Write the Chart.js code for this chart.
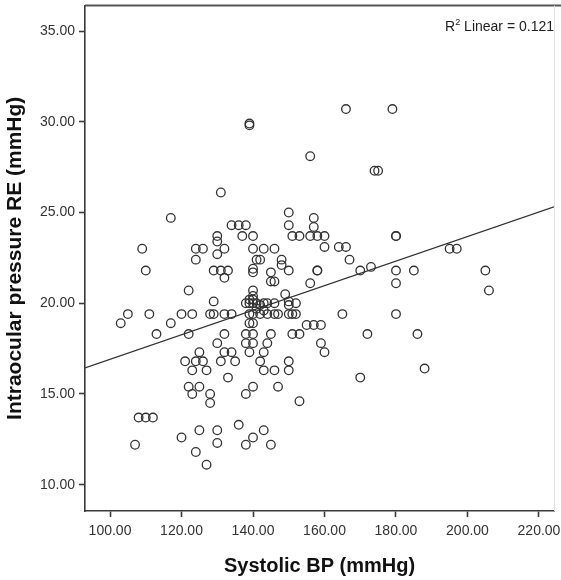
<!DOCTYPE html>
<html><head><meta charset="utf-8">
<script src="https://cdn.jsdelivr.net/npm/chart.js@4"></script>
<style>html,body{margin:0;padding:0;background:#fff}#wrap{width:561px;height:580px;position:relative}</style>
</head><body><div id="wrap"><canvas id="c" width="561" height="580"></canvas></div>
<script>
// ---- data ----
const systolicBP = [
  139,139,166,179,156,174,175,131,117,
  150,150,157,157,
  134,136,138,137,140,130,130,
  124,126,130,132,124,
  140,143,146,151,153,156,158,160,
  160,164,166,167,180,180,
  109,110,129,131,133,132,
  141,142,148,148,150,140,140,
  145,145,146,156,158,158,
  170,173,180,180,185,195,197,205,206,
  180,172,186,170,188,
  122,129,149,140,140,
  105,103,111,117,113,120,123,122,
  128,129,132,134,132,130,132,134,131,135,
  125,121,124,126,123,127,
  133,122,125,123,128,128,138,
  108,110,112,107,120,125,130,130,136,124,127,
  165,139,140,155,157,159,
  138,140,145,151,153,
  138,140,144,159,139,143,160,
  142,150,143,146,150,
  140,147,153,143,140,138,145,
  138,139,140,141,143,144,146,139,140,150,150,152,
  139,140,142,144,146,147,150,151,152,141,142,143
];
const iopRE = [
  29.8,29.9,30.7,30.7,28.1,27.3,27.3,26.1,24.7,
  25.0,24.3,24.7,24.2,
  24.3,24.3,24.3,23.7,23.7,23.7,23.4,
  23.0,23.0,22.7,23.0,22.4,
  23.0,23.0,23.0,23.7,23.7,23.7,23.7,23.7,
  23.1,23.1,23.1,22.4,23.7,23.7,
  23.0,21.8,21.8,21.8,21.8,21.4,
  22.4,22.4,22.4,22.1,21.8,21.9,21.7,
  21.7,21.2,21.2,21.1,21.8,21.8,
  21.8,22.0,21.1,21.8,21.8,23.0,23.0,21.8,20.7,
  19.4,18.3,18.3,15.9,16.4,
  20.7,20.1,20.5,20.7,20.4,
  19.4,18.9,19.4,18.9,18.3,19.4,19.4,18.3,
  19.4,19.4,19.4,19.4,18.3,17.8,17.3,17.3,16.8,16.8,
  17.3,16.8,16.8,16.8,16.3,16.3,
  15.9,15.4,15.4,15.0,15.0,14.5,15.0,
  13.7,13.7,13.7,12.2,12.6,13.0,13.0,12.3,13.3,11.8,11.1,
  19.4,18.9,18.9,18.8,18.8,18.8,
  18.3,18.3,18.3,18.3,18.3,
  17.8,17.8,17.8,17.8,17.3,17.3,17.3,
  16.8,16.8,16.3,16.3,16.3,
  15.4,15.4,14.6,13.0,12.6,12.2,12.2,
  20.0,20.0,20.0,20.0,20.0,20.0,20.0,20.2,20.2,19.9,20.1,20.0,
  19.4,19.4,19.4,19.4,19.4,19.4,19.4,19.4,19.4,19.7,19.9,19.6
];
const xTicks = [100,120,140,160,180,200,220];
const yTicks = [10,15,20,25,30,35];
const xRange = [93, 224.2];
const yRange = [8.55, 36.4];
const fitIntercept = 10.15;
const fitSlope = 0.0676;
const r2Value = 0.121;
const xTitle = 'Systolic BP (mmHg)';
const yTitle = 'Intraocular pressure RE (mmHg)';

// ---- chart ----
const FONT = '"Liberation Sans", Arial, sans-serif';
const fit = x => fitIntercept + fitSlope * x;

const framePlugin = {
  id: 'frame',
  afterDraw(chart) {
    const {ctx, chartArea: a} = chart;
    ctx.save();
    ctx.strokeStyle = '#555';
    ctx.lineWidth = 2;
    ctx.beginPath(); ctx.moveTo(a.left, a.top); ctx.lineTo(chart.width, a.top); ctx.stroke();
    ctx.strokeStyle = '#e2e2e2';
    ctx.lineWidth = 1;
    ctx.beginPath(); ctx.moveTo(a.right + 0.5, a.top); ctx.lineTo(a.right + 0.5, a.bottom); ctx.stroke();
    // R^2 annotation
    ctx.fillStyle = '#222';
    ctx.textBaseline = 'alphabetic';
    const tail = ' Linear = ' + r2Value.toFixed(3);
    ctx.font = '14px ' + FONT;
    const wR = ctx.measureText('R').width, wT = ctx.measureText(tail).width;
    ctx.font = '9px ' + FONT;
    const w2 = ctx.measureText('2').width;
    const base = a.top + 25;
    let x = a.right - (wR + w2 + wT);
    ctx.font = '14px ' + FONT; ctx.fillText('R', x, base); x += wR;
    ctx.font = '9px ' + FONT; ctx.fillText('2', x, base - 6); x += w2;
    ctx.font = '14px ' + FONT; ctx.fillText(tail, x, base);
    ctx.restore();
  }
};

new Chart(document.getElementById('c'), {
  data: {
    datasets: [
      {
        type: 'scatter',
        data: systolicBP.map((x, i) => ({x, y: iopRE[i]})),
        pointRadius: 4.3,
        pointHoverRadius: 4.3,
        pointBorderWidth: 1.3,
        pointBorderColor: '#333',
        pointBackgroundColor: 'rgba(255,255,255,0)'
      },
      {
        type: 'line',
        data: xRange.map(x => ({x, y: fit(x)})),
        borderColor: '#333',
        borderWidth: 1.3,
        pointRadius: 0,
        fill: false
      }
    ]
  },
  options: {
    responsive: false,
    animation: false,
    devicePixelRatio: 1,
    layout: {padding: {top: 2, right: 7, left: 0, bottom: 0}},
    plugins: {legend: {display: false}, tooltip: {enabled: false}},
    scales: {
      x: {
        type: 'linear', min: xRange[0], max: xRange[1],
        afterBuildTicks: s => { s.ticks = xTicks.map(v => ({value: v})); },
        afterFit: s => { s.height = 69; s.paddingLeft = 0; s.paddingRight = 0; },
        ticks: {callback: v => Number(v).toFixed(2), font: {family: FONT, size: 14}, color: '#333', padding: 6, maxRotation: 0, autoSkip: false},
        grid: {display: true, drawOnChartArea: false, drawTicks: true, tickLength: 6, tickWidth: 1.6, tickColor: '#3a3a3a'},
        border: {display: true, color: '#3a3a3a', width: 1.6},
        title: {display: true, text: xTitle, color: '#111', font: {family: FONT, size: 20, weight: 'bold'}, padding: {top: 0, bottom: 2}}
      },
      y: {
        type: 'linear', min: yRange[0], max: yRange[1],
        afterBuildTicks: s => { s.ticks = yTicks.map(v => ({value: v})); },
        afterFit: s => { s.width = 85; s.paddingTop = 0; s.paddingBottom = 0; },
        ticks: {callback: v => Number(v).toFixed(2), font: {family: FONT, size: 14}, color: '#333', padding: 4, autoSkip: false},
        grid: {display: true, drawOnChartArea: false, drawTicks: true, tickLength: 6, tickWidth: 1.6, tickColor: '#3a3a3a'},
        border: {display: true, color: '#3a3a3a', width: 1.6},
        title: {display: true, text: yTitle, color: '#111', font: {family: FONT, size: 21, weight: 'bold'}, padding: {top: 3, bottom: 0}}
      }
    }
  },
  plugins: [framePlugin]
});
</script></body></html>
